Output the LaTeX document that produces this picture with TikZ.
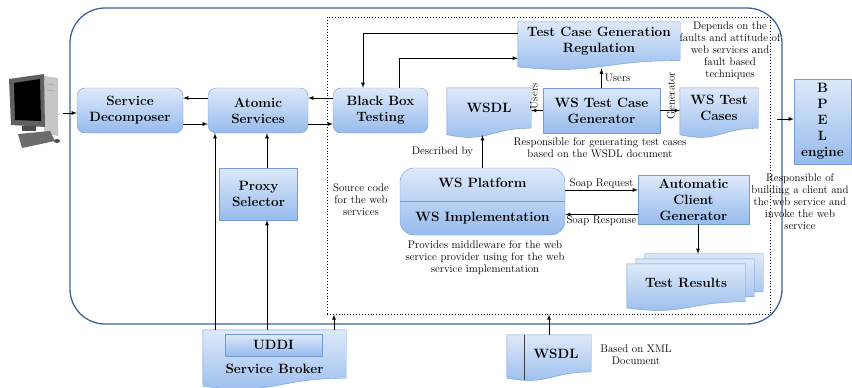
\documentclass[tikz,border=0pt]{standalone}
\usepackage{fontspec}
\usetikzlibrary{calc}
\usetikzlibrary{arrows}
\usetikzlibrary{backgrounds}

\definecolor{boxtop}{RGB}{222,233,250}
\definecolor{boxbot}{RGB}{150,187,237}
\definecolor{boxline}{RGB}{116,155,212}
\definecolor{frameblue}{RGB}{62,100,158}
\definecolor{splitline}{RGB}{150,140,195}

\tikzset{
  labelfont/.style={font=\fontsize{13.5}{16}\selectfont\bfseries, align=center},
  note/.style={font=\fontsize{11}{12}\selectfont, align=center, inner sep=1pt},
  blockbox/.style={labelfont, draw=boxline, top color=boxtop, bottom color=boxbot, inner sep=2pt},
  roundbox/.style={blockbox, rounded corners=8pt},
  docbox/.style={labelfont, inner sep=2pt},
  docfill/.style={draw=boxline, top color=boxtop, bottom color=boxbot},
  arrow/.style={->, >=latex, line width=0.8pt},
}

% wavy bottomed page drawn behind a docbox node
\newcommand\docback[1]{%
  \path[docfill] let \p1=(#1.north west), \p2=(#1.south east), \n1={\y1-\y2} in
    (\p1) -- (\x2,\y1) -- (\p2) .. controls (#1.south) and ([yshift={-0.375*\n1}]#1.south)
    .. ([yshift={-0.1625*\n1}]#1.south west) -- cycle;}

\begin{document}
\begin{tikzpicture}[x=1pt, y=-1pt]
\useasboundingbox (0,0) rectangle (852,388);

% workstation
\fill[gray!45] (44,76) -- (58,78) -- (58,136) -- (44,133) -- cycle;
\draw[gray!70, line width=0.6pt] (47,84) -- (55,85) (47,90) -- (55,91);
\fill[gray!75!black] (9,79) -- (44,74) -- (45,127) -- (11,125) -- cycle;
\fill[black] (14,83) -- (40,79) -- (41,121) -- (15,120) -- cycle;
\fill[gray!60!black] (22,126) rectangle (36,131);
\fill[gray!85!black] (18,134) -- (50,131) -- (55,141) -- (22,148) -- cycle;
\fill[gray!60!black] (57,141) ellipse (3 and 2);
\coordinate (pc) at (63,113);

% frames
\node[draw=frameblue, line width=1.3pt, rounded corners=35pt, minimum width=712, minimum height=316] (outer) at (426,166) {};
\node[draw, dotted, line width=0.9pt, minimum width=443, minimum height=297] (core) at (548.5,165.5) {};

% blocks
\node[roundbox, minimum width=106, minimum height=45] (sdec) at (130,110.5) {Service\\Decomposer};
\node[roundbox, minimum width=100, minimum height=45] (atom) at (258,110.5) {Atomic\\Services};
\node[blockbox, minimum width=78, minimum height=52] (proxy) at (258.5,194) {Proxy\\Selector};
\node[roundbox, minimum width=95, minimum height=45] (bbt) at (380.5,110.5) {Black Box\\Testing};
\node[docbox, minimum width=162, minimum height=38.4] (tcgr) at (599,41.2) {Test Case Generation\\Regulation};
\node[docbox, minimum width=84, minimum height=40] (wsdl) at (489,108) {WSDL};
\node[blockbox, minimum width=117, minimum height=45] (wstcg) at (601.5,110.5) {WS Test Case\\Generator};
\node[docbox, minimum width=78, minimum height=40] (wstc) at (719,108) {WS Test\\Cases};
\node[blockbox, minimum width=57, minimum height=85] (bpel) at (822.5,121.5) {B\\P\\E\\L\\engine};
\node[roundbox, rounded corners=14pt, minimum width=165, minimum height=67] (wsp) at (482.5,201.5) {WS Platform\\[18pt]WS Implementation};
\draw[splitline, line width=0.8pt] (wsp.west) -- (wsp.east);
\node[blockbox, minimum width=111, minimum height=49] (acg) at (693.5,199.5) {Automatic\\Client\\Generator};
\node[docbox, minimum width=118, minimum height=37.6] (res1) at (704,272.8) {};
\node[docbox, minimum width=118, minimum height=37.6] (res2) at (695,277.8) {};
\node[docbox, minimum width=118, minimum height=37.6] (res3) at (686,282.8) {Test Results};
\node[docbox, minimum width=143, minimum height=48] (uddi) at (274.5,354) {};
\node[blockbox, minimum width=97, minimum height=22, inner sep=1pt] (uddibox) at (273.5,345) {UDDI};
\node[docbox] (broker) at (274.5,369) {Service Broker};
\node[docbox, minimum width=84, minimum height=36.8] (wsdlb) at (549,353.4) {\hspace*{14pt}WSDL};
\draw[black!75, line width=0.8pt] ([xshift=18pt]wsdlb.north west) -- ++(0,45);

\begin{scope}[on background layer]
\docback{tcgr}
\docback{wsdl}
\docback{wstc}
\docback{res1}
\docback{res2}
\docback{res3}
\docback{uddi}
\docback{wsdlb}
\end{scope}

% notes
\node[note] (depends) at (730,51) {Depends on the\\faults and attitude of\\web services and\\fault based\\techniques};
\node[note] (respclient) at (800,202) {Responsible of\\building a client and\\the web service and\\invoke the web\\service};
\node[note] (resptc) at (600,148) {Responsible for generating test cases\\based on the WSDL document};
\node[note] (source) at (361,200) {Source code\\for the web\\services};
\node[note] (provides) at (485,258) {Provides middleware for the web\\service provider using for the web\\service implementation};
\node[note] (xmlnote) at (636,355) {Based on XML\\Document};

% connectors
\draw[arrow] (pc) -- (pc -| sdec.west);
\draw[arrow] ([yshift=12.5pt]atom.west) -- ([yshift=12.5pt]sdec.east);
\draw[arrow] ([yshift=-13.5pt]sdec.east) -- ([yshift=-13.5pt]atom.west);
\draw[arrow] ([yshift=12.5pt]bbt.west) -- ([yshift=12.5pt]atom.east);
\draw[arrow] ([yshift=-13.5pt]atom.east) -- ([yshift=-13.5pt]bbt.west);
\draw[arrow] ([xshift=8.5pt]proxy.north) -- ([xshift=8.5pt]proxy.north |- atom.south);
\draw[arrow] ([xshift=-7.5pt]uddi.north) -- ([xshift=-7.5pt]uddi.north |- proxy.south);
\draw[arrow] ([xshift=-59.5pt]uddi.north) -- ([xshift=-59.5pt]uddi.north |- atom.south);
\draw[arrow] ([xshift=59.5pt]uddi.north) -- ([xshift=59.5pt]uddi.north |- core.south);
\draw[arrow] (wsdlb.north) -- (wsdlb.north |- core.south);
\draw[arrow] ([yshift=8pt]tcgr.west) -| ([xshift=-17.5pt]bbt.north);
\draw[arrow] ([xshift=18.5pt]bbt.north) |- ([yshift=-17pt]tcgr.west);
\draw[arrow] (wstcg.west) -- (wstcg.west -| wsdl.east) node[note, pos=.3, rotate=90, anchor=south west] {Users};
\draw[arrow] (wstcg.north) -- ([yshift=-8pt]wstcg.north |- tcgr.south) node[note, midway, right=2pt] {Users};
\draw[arrow] (wstcg.east) -- (wstcg.east -| wstc.west) node[note, pos=.55, yshift=15pt, rotate=90] {Generator};
\draw[arrow] (wsp.north) -- ([yshift=-7pt]wsp.north |- wsdl.south) node[note, midway, left=8pt] {Described by};
\draw[arrow] ([yshift=11.5pt]wsp.east) -- ([yshift=11.5pt]wsp.east -| acg.west) node[note, midway, above] {Soap Request};
\draw[arrow] ([yshift=-13pt]wsp.east -| acg.west) -- ([yshift=-13pt]wsp.east) node[note, midway, below] {Soap Response};
\draw[arrow] ([xshift=4.5pt]acg.south) -- ([xshift=4.5pt]acg.south |- res1.north);
\coordinate (bpelin) at (777,119);
\draw[arrow] (bpelin) -- (bpelin -| bpel.west);

\end{tikzpicture}
\end{document}
